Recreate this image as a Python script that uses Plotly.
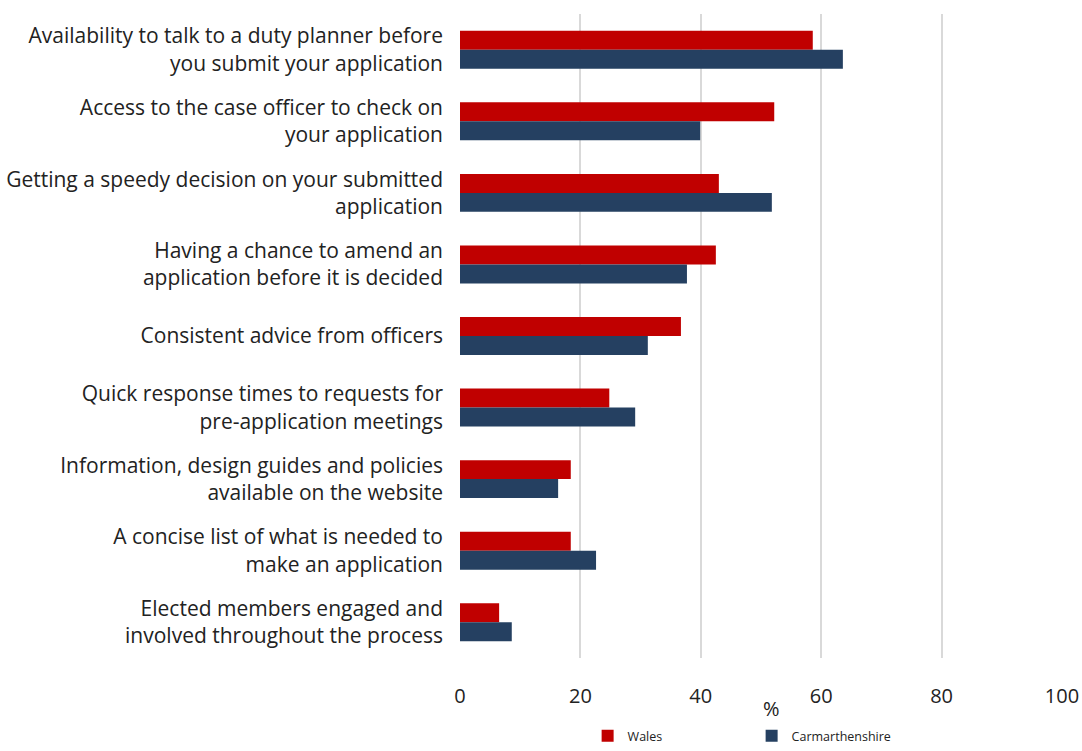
import plotly.graph_objects as go

categories = [
    "Availability to talk to a duty planner before<br>you submit your application",
    "Access to the case officer to check on<br>your application",
    "Getting a speedy decision on your submitted<br>application",
    "Having a chance to amend an<br>application before it is decided",
    "Consistent advice from officers",
    "Quick response times to requests for<br>pre-application meetings",
    "Information, design guides and policies<br>available on the website",
    "A concise list of what is needed to<br>make an application",
    "Elected members engaged and<br>involved throughout the process",
]
wales = [58.6, 52.2, 43.0, 42.5, 36.7, 24.8, 18.4, 18.4, 6.5]
carmarthenshire = [63.6, 39.9, 51.8, 37.7, 31.2, 29.1, 16.3, 22.6, 8.6]
x_ticks = [0, 20, 40, 60, 80, 100]

FONT = "Open Sans"

fig = go.Figure()
fig.add_trace(go.Bar(y=categories, x=wales, orientation="h", name="Wales",
                     marker=dict(color="#C00000", line=dict(width=0))))
fig.add_trace(go.Bar(y=categories, x=carmarthenshire, orientation="h", name="Carmarthenshire",
                     marker=dict(color="#254061", line=dict(width=0))))

fig.update_layout(
    width=1082, height=751,
    margin=dict(l=460, r=20, t=14, b=93, autoexpand=False),
    paper_bgcolor="white", plot_bgcolor="white",
    barmode="group", bargap=0.47, bargroupgap=0,
    font=dict(family=FONT, color="#222222", size=19),
    showlegend=True,
    legend=dict(orientation="h", x=0.212, xanchor="left", y=-93 / 644, yanchor="bottom",
                font=dict(size=12.5, family=FONT), entrywidth=119, entrywidthmode="pixels",
                itemsizing="constant", traceorder="normal", tracegroupgap=0),
    xaxis=dict(range=[0, 100], tickvals=x_ticks, showgrid=True, gridcolor="#d9d9d9",
               gridwidth=2, zeroline=False, showline=False, ticks="", automargin=False,
               tickfont=dict(size=20, family=FONT, color="#222222"),
               ticklabelstandoff=24),
    yaxis=dict(autorange="reversed", showgrid=False, zeroline=False, showline=False,
               ticks="", automargin=False, tickfont=dict(size=21, family=FONT, color="#222222"),
               ticklabelstandoff=16),
    annotations=[dict(text="%", x=0.518, y=-50 / 644, xref="paper", yref="paper",
                      yanchor="middle", xanchor="center",
                      showarrow=False, font=dict(size=20, family=FONT, color="#222222"))],
)

fig.write_html("out.html", config={"displayModeBar": False},
               post_script="document.body.style.margin='0px';document.body.style.overflow='hidden';")
